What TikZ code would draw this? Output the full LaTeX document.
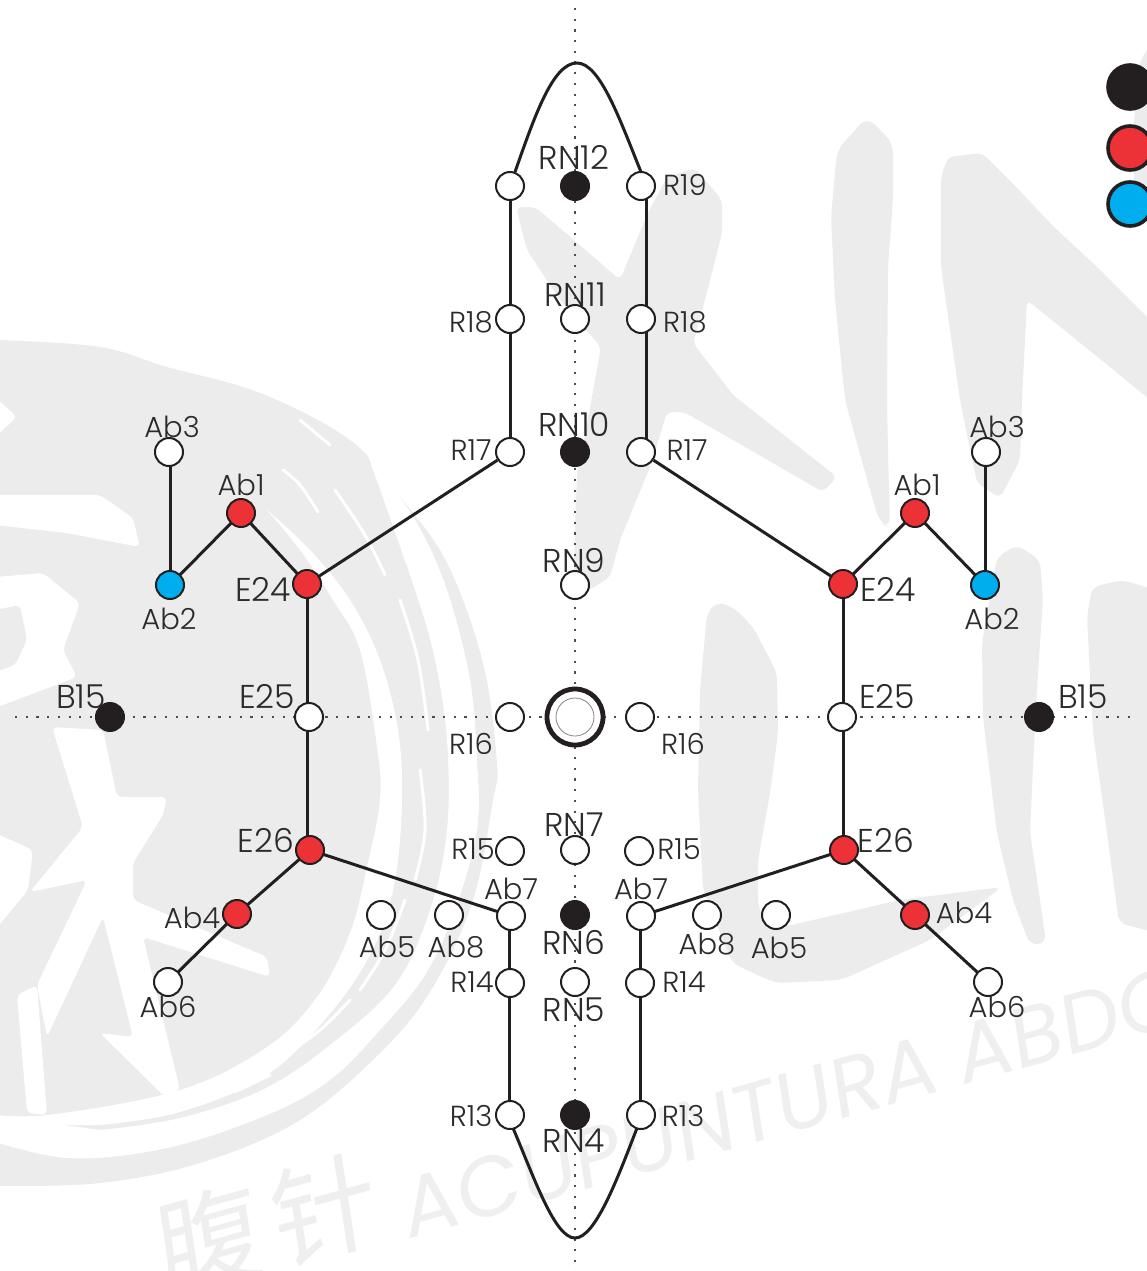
\documentclass[tikz,border=0pt]{standalone}
\usepackage{fontspec}
\setmainfont{Poppins Light}
\newfontfamily\wmfont[FakeSlant=0.12]{Poppins}
\newfontfamily\wmcjk[FakeSlant=0.12]{Noto Sans CJK SC}
\definecolor{ink}{HTML}{231F20}
\definecolor{txt}{HTML}{2B2B2B}
\definecolor{wm}{HTML}{ECECEC}
\definecolor{wmtxt}{HTML}{EFEFEF}
\definecolor{pred}{HTML}{ED3237}
\definecolor{pblue}{HTML}{00AEEF}
\pgfdeclarelayer{marks}
\pgfdeclarelayer{links}
\pgfsetlayers{marks,links,main}
\tikzset{
  pt/.style={circle,draw=ink,line width=2pt,minimum size=28pt,inner sep=0pt,fill=white},
  ptw/.style={pt},
  ptr/.style={pt,fill=pred},
  ptb/.style={pt,fill=pblue},
  ptk/.style={pt,fill=ink},
  lab/.style={text=txt,font=\fontsize{29}{29}\selectfont,inner sep=0pt},
  labn/.style={text=txt,font=\fontsize{33}{33}\selectfont,inner sep=0pt},
  link/.style={draw=ink,line width=3pt},
  axis/.style={draw=ink!80,line width=1.6pt,dash pattern=on 2.2pt off 8.5pt},
  legend/.style={circle,draw=ink,line width=3.6pt,minimum size=44pt,inner sep=0pt},
  brush/.style={fill=wm,draw=none},
  gap/.style={fill=white,draw=none,rounded corners=5pt},
  fleck/.style={draw=white,line width=3pt,line cap=round}
}
\begin{document}
\begin{tikzpicture}[x=1pt,y=-1pt]
\useasboundingbox (0,0) rectangle (1147,1271);
\begin{pgfonlayer}{marks}
\begin{scope}
\clip (0,0) rectangle (1147,1271);
\fill[white] (0,0) rectangle (1147,1271);
% large brushed disc
\fill[brush] plot[smooth,tension=0.6] coordinates {(-30,339) (0,340) (100,347) (167,367) (260,393) (350,440) (400,497) (447,563) (483,663) (497,763) (493,800) (473,900) (433,987) (383,1050) (300,1120) (200,1163) (100,1183) (0,1186) (-30,1186)} -- cycle;
% first white band
\fill[white] plot[smooth,tension=0.6] coordinates {(267,510) (300,550) (333,600) (360,650) (377,747) (380,800) (367,867) (350,933) (317,997) (267,1047) (180,1090) (47,1115) (-20,1113)} -- (-20,1125) -- plot[smooth,tension=0.6] coordinates {(100,1125) (180,1112) (267,1075) (333,1010) (375,945) (395,880) (402,800) (398,730) (380,660) (350,600) (310,550) (267,510)};
% second white band
\fill[white] plot[smooth,tension=0.6] coordinates {(367,453) (415,520) (447,590) (470,680) (477,760) (477,830) (455,910) (425,975) (380,1030) (330,1080) (267,1115) (167,1148) (67,1158) (-20,1137)} -- (-20,1113) -- plot[smooth,tension=0.6] coordinates {(100,1130) (180,1118) (262,1090) (330,1045) (395,985) (430,910) (447,830) (447,740) (435,660) (415,590) (367,453)};
% flecks in the brushed ring
\foreach \pa in {
 {(283,470) (300,485) (318,512)},
 {(335,490) (365,535) (385,575)},
 {(400,600) (418,660) (428,730)},
 {(420,770) (425,830) (415,880)},
 {(405,900) (385,950) (360,990)},
 {(350,1000) (320,1030) (285,1055)},
 {(270,1075) (235,1092)},
 {(200,1100) (150,1112)},
 {(395,500) (425,550)},
 {(300,420) (330,445)}}
 \draw[fleck] plot[smooth,tension=0.6] coordinates \pa;
% white letter parts cut from the disc
\fill[gap] (-5,397) -- (17,417) -- (-5,437) -- cycle;
\fill[gap] (-5,495) -- (100,495) -- (133,518) -- (140,547) -- (67,533) -- (-5,525) -- cycle;
\fill[gap] (-5,577) -- (43,573) -- (80,603) -- (63,650) -- (77,677) -- (-5,708) -- cycle;
\fill[brush,rounded corners=5pt] (-5,610) -- (20,605) -- (27,640) -- (15,665) -- (-5,672) -- cycle;
\fill[gap] (52,727) -- (103,730) -- (117,797) -- (167,797) -- (163,815) -- (133,863) -- (133,900) -- (267,957) -- (270,977) -- (143,937) -- (180,1090) -- (165,1097) -- (100,1033) -- (133,1037) -- (103,917) -- (47,1037) -- (37,985) -- (87,880) -- (30,892) -- (83,827) -- cycle;
\fill[gap] (-5,833) -- (33,850) -- (28,890) -- (-5,930) -- cycle;
\fill[gap] (17,995) -- (37,985) -- (47,1115) -- (27,1113) -- cycle;
% calligraphic strokes, right
\fill[brush,rounded corners=6pt] (516,207) -- (535,207) -- (574,240) -- (620,280) -- (648,213) -- (667,177) -- (695,168) -- (722,200) -- (722,233) -- (705,300) -- (693,343) -- (733,395) -- (837,477) -- (823,492) -- (733,440) -- (684,412) -- (667,412) -- (650,467) -- (620,540) -- (610,577) -- (590,590) -- (573,590) -- (577,473) -- (586,430) -- (601,347) -- (560,300) -- (527,250) -- cycle;
\fill[brush,rounded corners=10pt] (837,150) -- (867,117) -- (893,143) -- (893,200) -- (888,267) -- (887,400) -- (888,450) -- (890,528) -- (880,523) -- (870,490) -- (845,400) -- (835,300) -- (831,217) -- cycle;
\fill[brush,rounded corners=6pt] (941,177) -- (948,157) -- (982,153) -- (1016,187) -- (1054,227) -- (1097,267) -- (1160,330) -- (1160,408) -- (1110,367) -- (1027,300) -- (1022,400) -- (1020,460) -- (1000,498) -- (977,483) -- (960,400) -- (941,267) -- cycle;
\fill[brush,rounded corners=8pt] (707,613) -- (717,602) -- (733,607) -- (753,627) -- (777,673) -- (778,733) -- (770,793) -- (758,860) -- (758,907) -- (770,930) -- (900,900) -- (1002,887) -- (930,940) -- (841,980) -- (775,983) -- (732,963) -- (703,890) -- (698,790) -- (700,690) -- cycle;
\fill[brush,rounded corners=8pt] (982,643) -- (997,557) -- (1017,545) -- (1040,560) -- (1043,600) -- (1037,687) -- (1033,767) -- (1030,833) -- (1040,900) -- (1046,943) -- (1030,945) -- (1013,900) -- (997,833) -- (983,717) -- cycle;
\fill[brush,rounded corners=8pt] (1087,617) -- (1092,587) -- (1123,580) -- (1165,593) -- (1165,935) -- (1119,923) -- (1107,833) -- (1093,733) -- cycle;
\fill[brush,rounded corners=8pt] (1165,25) -- (1140,60) -- (1134,120) -- (1134,190) -- (1165,240) -- cycle;
% watermark text
\node[anchor=south west,rotate=15.5,text=wmtxt,inner sep=0pt,font=\fontsize{84}{84}\wmfont] (wmlatin) at (408,1240) {ACUPUNTURA ABDOMINAL};
\node[anchor=south west,rotate=15.5,text=wmtxt,inner sep=0pt,font=\fontsize{108}{108}\wmcjk] (wmcn) at (165,1305) {腹\hspace{12pt}针};
\end{scope}
\end{pgfonlayer}

% centre
\node[circle,draw=ink,line width=4.8pt,minimum size=56pt,inner sep=0pt,fill=white] (navel) at (575,717) {};
\node[circle,draw=ink!55,line width=0.8pt,minimum size=38pt,inner sep=0pt] (navelin) at (navel) {};

% points: centre line
\node[ptk] (rn12) at (575,186) {};
\node[ptw] (rn11) at (575,319) {};
\node[ptk] (rn10) at (575,452) {};
\node[ptw] (rn9) at (575,585) {};
\node[ptw] (rn7) at (575,850) {};
\node[ptk] (rn6) at (575,915) {};
\node[ptw] (rn5) at (575,982) {};
\node[ptk] (rn4) at (575,1115) {};
% left side
\node[ptw] (r19l) at (510,186) {};
\node[ptw] (r18l) at (510,319) {};
\node[ptw] (r17l) at (510,452) {};
\node[ptr] (e24l) at (307,584) {};
\node[ptr] (ab1l) at (241,513) {};
\node[ptb] (ab2l) at (170,585) {};
\node[ptw] (ab3l) at (169,452) {};
\node[ptw] (e25l) at (309,717) {};
\node[ptw] (r16l) at (510,717) {};
\node[ptk] (b15l) at (110,717) {};
\node[ptr] (e26l) at (310,850) {};
\node[ptw] (r15l) at (510,851) {};
\node[ptw] (ab7l) at (511,916) {};
\node[ptw] (ab8l) at (449,915) {};
\node[ptw] (ab5l) at (381,915) {};
\node[ptr] (ab4l) at (237,914) {};
\node[ptw] (ab6l) at (168,982) {};
\node[ptw] (r14l) at (510,983) {};
\node[ptw] (r13l) at (510,1115) {};
% right side
\node[ptw] (r19r) at (641,186) {};
\node[ptw] (r18r) at (641,319) {};
\node[ptw] (r17r) at (641,452) {};
\node[ptr] (e24r) at (843,584) {};
\node[ptr] (ab1r) at (915,513) {};
\node[ptb] (ab2r) at (985,585) {};
\node[ptw] (ab3r) at (986,452) {};
\node[ptw] (e25r) at (842,717) {};
\node[ptw] (r16r) at (640,717) {};
\node[ptk] (b15r) at (1039,717) {};
\node[ptr] (e26r) at (844,850) {};
\node[ptw] (r15r) at (639,851) {};
\node[ptw] (ab7r) at (641,916) {};
\node[ptw] (ab8r) at (707,915) {};
\node[ptw] (ab5r) at (776,915) {};
\node[ptr] (ab4r) at (915,915) {};
\node[ptw] (ab6r) at (988,982) {};
\node[ptw] (r14r) at (640,983) {};
\node[ptw] (r13r) at (641,1115) {};

\coordinate (axtop) at (575,8);
\coordinate (axbot) at (575,1271);
\coordinate (axl) at (15,717);
\coordinate (axr) at (1133,717);
\coordinate (apextop) at (577,63);
\coordinate (apexbot) at (575,1238);

\begin{pgfonlayer}{links}
\draw[axis] (axtop) -- (axbot);
\draw[axis] (axl) -- (axr);
% left
\draw[link] (r19l.center) -- (r18l.center) -- (r17l.center);
\draw[link] (r17l) -- (e24l.center);
\draw[link] (e24l.center) -- (e24l |- e26l);
\draw[link] (e24l.center) -- (ab1l.center) -- (ab2l.center);
\draw[link] (ab2l.center) -- (ab2l |- ab3l);
\draw[link] (e26l.center) -- (ab4l.center) -- (ab6l.center);
\draw[link] (e26l.center) -- (ab7l.center);
\draw[link] ([xshift=-2pt]ab7l.center) -- ([xshift=-1pt]r14l.center) -- ([xshift=-1pt]r13l.center);
% right
\draw[link] ([xshift=5pt]r19r.center) -- ([xshift=5pt]r18r.center) -- ([xshift=5pt]r17r.center);
\draw[link] (r17r) -- (e24r.center);
\draw[link] (e24r.center) -- (e24r |- e26r);
\draw[link] (e24r.center) -- (ab1r.center) -- (ab2r.center);
\draw[link] (ab2r.center) -- (ab2r |- ab3r);
\draw[link] (e26r.center) -- (ab4r.center) -- (ab6r.center);
\draw[link] (e26r.center) -- (ab7r.center);
\draw[link] ([xshift=-1pt]ab7r.center) -- (r14r.center) -- ([xshift=-1pt]r13r.center);
% arches
\draw[link] ([shift={(5,-14)}]r19l.center) .. controls (535,115) and (553,63) .. (apextop) .. controls (600,63) and (620,120) .. ([shift={(0,-14)}]r19r.center);
\draw[link] ([shift={(3,13)}]r13l.center) .. controls (535,1180) and (555,1238) .. (apexbot) .. controls (595,1238) and (617,1180) .. ([shift={(-4,13)}]r13r.center);
\end{pgfonlayer}

% labels
\node[labn] (trn12) at (574,157) {RN12};
\node[labn] (trn11) at (575,295) {RN11};
\node[labn] (trn10) at (574,425) {RN10};
\node[labn] (trn9) at (574,560) {RN9};
\node[labn] (trn7) at (574,825) {RN7};
\node[labn] (trn6) at (574,942) {RN6};
\node[labn] (trn5) at (574,1010) {RN5};
\node[labn] (trn4) at (574,1141) {RN4};
\node[lab] (tr19) at (685,185) {R19};
\node[lab] (tr18l) at (471,322) {R18};
\node[lab] (tr18r) at (685,322) {R18};
\node[lab] (tr17l) at (471,450) {R17};
\node[lab] (tr17r) at (687,450) {R17};
\node[lab] (tab3l) at (172,427) {Ab3};
\node[lab] (tab3r) at (997,427) {Ab3};
\node[lab] (tab1l) at (241,485) {Ab1};
\node[lab] (tab1r) at (917,485) {Ab1};
\node[labn] (te24l) at (263,589) {E24};
\node[labn] (te24r) at (888,589) {E24};
\node[lab] (tab2l) at (169,619) {Ab2};
\node[lab] (tab2r) at (992,619) {Ab2};
\node[labn] (tb15l) at (81,697) {B15};
\node[labn] (tb15r) at (1083,697) {B15};
\node[labn] (te25l) at (267,697) {E25};
\node[labn] (te25r) at (887,697) {E25};
\node[lab] (tr16l) at (471,744) {R16};
\node[lab] (tr16r) at (683,744) {R16};
\node[labn] (te26l) at (266,840) {E26};
\node[labn] (te26r) at (886,840) {E26};
\node[lab] (tr15l) at (473,849) {R15};
\node[lab] (tr15r) at (679,849) {R15};
\node[lab] (tab7l) at (511,889) {Ab7};
\node[lab] (tab7r) at (641,889) {Ab7};
\node[lab] (tab4l) at (192,918) {Ab4};
\node[lab] (tab4r) at (964,913) {Ab4};
\node[lab] (tab5l) at (387,947) {Ab5};
\node[lab] (tab5r) at (779,948) {Ab5};
\node[lab] (tab8l) at (456,947) {Ab8};
\node[lab] (tab8r) at (707,944) {Ab8};
\node[lab] (tab6l) at (168,1007) {Ab6};
\node[lab] (tab6r) at (997,1007) {Ab6};
\node[lab] (tr14l) at (472,982) {R14};
\node[lab] (tr14r) at (684,982) {R14};
\node[lab] (tr13l) at (471,1116) {R13};
\node[lab] (tr13r) at (683,1116) {R13};

% legend, cut by the right edge
\begin{scope}
\clip (0,0) rectangle (1147,1271);
\node[legend,fill=ink] (lgk) at (1130,87) {};
\node[legend,fill=pred] (lgr) at (1130,148) {};
\node[legend,fill=pblue] (lgb) at (1130,204) {};
\end{scope}
\end{tikzpicture}
\end{document}
